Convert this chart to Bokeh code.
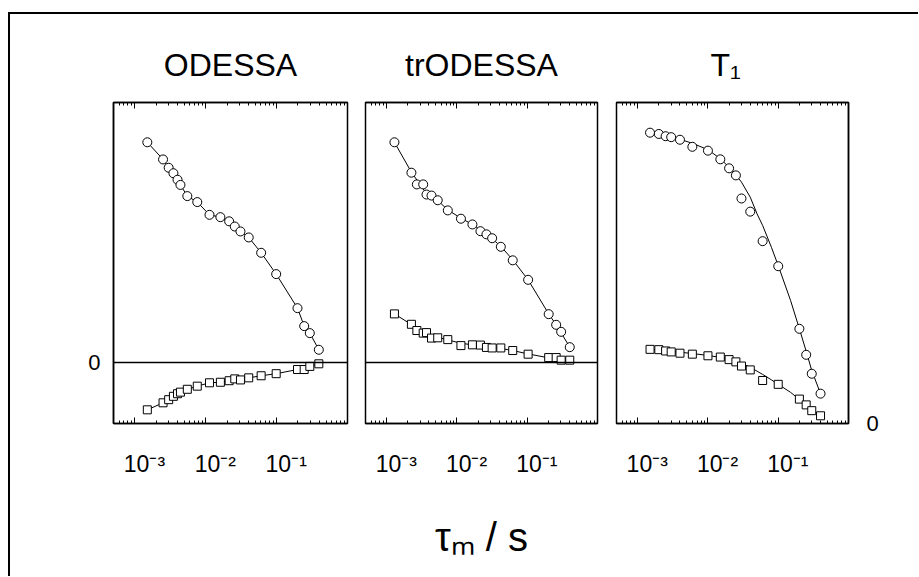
from bokeh.plotting import figure
from bokeh.models import (Range1d, FixedTicker, LogAxis, LinearAxis, Span, Title,
                          CustomJSTickFormatter)
from bokeh.layouts import row
from bokeh.embed import file_html
from bokeh.resources import INLINE

FONT = "Liberation Sans"

# ---------------- data ----------------
x_ticks = [1e-3, 1e-2, 1e-1]
x_tick_labels = ["10\u207b\u00b3", "10\u207b\u00b2", "10\u207b\u00b9"]
panel_titles = ["ODESSA", "trODESSA", "T\u2081"]
x_label = "\u03c4\u2098 / s"

odessa_tau = [1.5e-3, 2.5e-3, 3.0e-3, 3.5e-3, 4.0e-3, 4.4e-3, 5.5e-3, 7.6e-3, 0.0113, 0.0161,
              0.0214, 0.0257, 0.0309, 0.0404, 0.0605, 0.0986, 0.197, 0.245, 0.294, 0.394]
odessa_circ = [0.847, 0.781, 0.749, 0.728, 0.703, 0.683, 0.640, 0.617, 0.568, 0.559,
               0.543, 0.523, 0.504, 0.481, 0.422, 0.340, 0.209, 0.140, 0.113, 0.049]
odessa_sq = [-0.182, -0.155, -0.143, -0.130, -0.120, -0.114, -0.103, -0.091, -0.078, -0.076,
             -0.070, -0.063, -0.067, -0.059, -0.051, -0.043, -0.027, -0.027, -0.015, -0.005]

tr_tau = [1.29e-3, 2.25e-3, 2.69e-3, 3.31e-3, 3.69e-3, 4.35e-3, 5.33e-3, 7.41e-3, 0.0114, 0.0166,
          0.0216, 0.0263, 0.0317, 0.0421, 0.0622, 0.103, 0.202, 0.258, 0.304, 0.403]
tr_circ = [0.847, 0.730, 0.685, 0.685, 0.646, 0.642, 0.624, 0.585, 0.553, 0.531,
           0.505, 0.493, 0.478, 0.445, 0.393, 0.318, 0.186, 0.145, 0.118, 0.059]
tr_sq = [0.187, 0.147, 0.123, 0.113, 0.115, 0.094, 0.095, 0.088, 0.065, 0.068,
         0.067, 0.058, 0.056, 0.056, 0.046, 0.032, 0.019, 0.019, 0.009, 0.009]
tr_fit_tau = [1.29e-3, 2.25e-3, 3.69e-3, 5.33e-3, 7.41e-3, 0.0114, 0.0166, 0.0263, 0.0421,
              0.0622, 0.103, 0.202, 0.258, 0.304, 0.403]
tr_fit_circ = [0.847, 0.732, 0.649, 0.623, 0.587, 0.555, 0.531, 0.495, 0.447,
               0.395, 0.318, 0.187, 0.145, 0.114, 0.059]
tr_fit_sq = [0.187, 0.146, 0.110, 0.097, 0.087, 0.074, 0.068, 0.062, 0.054,
             0.046, 0.033, 0.018, 0.014, 0.010, 0.007]

t1_tau = [1.5e-3, 2e-3, 2.5e-3, 3e-3, 4e-3, 6e-3, 0.01, 0.015, 0.02, 0.025,
          0.03, 0.04, 0.06, 0.1, 0.2, 0.25, 0.3, 0.4]
t1_circ = [0.906, 0.902, 0.895, 0.892, 0.884, 0.862, 0.850, 0.823, 0.795, 0.773,
           0.701, 0.660, 0.568, 0.490, 0.295, 0.214, 0.155, 0.093]
t1_sq = [0.231, 0.230, 0.226, 0.223, 0.219, 0.216, 0.211, 0.207, 0.199, 0.192,
         0.179, 0.167, 0.134, 0.122, 0.076, 0.058, 0.040, 0.024]
t1_fit_tau = [1.5e-3, 3e-3, 6e-3, 0.01, 0.015, 0.02, 0.025, 0.03, 0.04, 0.05,
              0.06, 0.08, 0.1, 0.15, 0.2, 0.25, 0.3, 0.4]
t1_fit_circ = [0.906, 0.894, 0.873, 0.853, 0.825, 0.798, 0.774, 0.752, 0.705, 0.653,
               0.617, 0.549, 0.492, 0.383, 0.295, 0.225, 0.165, 0.093]
t1_fit_sq = [0.231, 0.225, 0.218, 0.212, 0.206, 0.200, 0.194, 0.188, 0.175, 0.163,
             0.153, 0.136, 0.122, 0.097, 0.075, 0.058, 0.043, 0.022]

X_MIN, X_MAX = 5e-4, 1.0
Y_MIN_A, Y_MAX_A = -0.2346, 1.0
Y_MIN_B, Y_MAX_B = 0.0, 1.0

# ---------------- layout constants ----------------
H = 562
TOP, BOTTOM = 88, 153

minor = []
for d in [-4, -3, -2, -1]:
    for k in range(2, 10):
        v = k * 10 ** d
        if X_MIN <= v <= X_MAX:
            minor.append(v)

NBSP = "\u00a0"
fmt_code = """
const e = Math.round(Math.log10(tick));
const m = {"-3": LABELS[0], "-2": LABELS[1], "-1": LABELS[2]};
const s = m[String(e)];
return s ? PAD + s : "";
"""


def style_x_axis(ax, labels=True):
    ax.ticker = FixedTicker(ticks=x_ticks, minor_ticks=minor)
    if labels:
        ax.formatter = CustomJSTickFormatter(args=dict(LABELS=x_tick_labels, PAD=NBSP * 3),
                                             code=fmt_code)
        ax.major_label_standoff = 27
        ax.major_label_text_font_size = "23px"
    else:
        ax.formatter = CustomJSTickFormatter(code="return '';")
        ax.major_label_standoff = 0
        ax.major_label_text_font_size = "2px"
    ax.axis_line_color = "black"
    ax.axis_line_width = 1.5
    ax.major_tick_in = 6
    ax.major_tick_out = 0
    ax.minor_tick_in = 3
    ax.minor_tick_out = 0
    ax.major_tick_line_color = "black"
    ax.minor_tick_line_color = "black"
    ax.major_label_text_font = FONT
    ax.major_label_text_color = "black"


def make_panel(width, left, right, y0, y1, title, align="center", title_offset=0):
    p = figure(width=width, height=H, x_axis_type="log",
               x_range=Range1d(X_MIN, X_MAX), y_range=Range1d(y0, y1),
               output_backend="svg", toolbar_location=None, title=None,
               min_border_left=left, min_border_right=right,
               min_border_top=TOP, min_border_bottom=BOTTOM,
               x_axis_location="below", y_axis_location=None)
    p.xgrid.visible = False
    p.ygrid.visible = False
    p.outline_line_color = "black"
    p.outline_line_width = 1.5
    p.background_fill_color = "white"
    p.border_fill_color = "white"
    bottom = p.below[0]
    style_x_axis(bottom, labels=True)
    top = LogAxis()
    style_x_axis(top, labels=False)
    p.add_layout(top, "above")
    p.add_layout(Title(text=title, align=align, offset=title_offset,
                       text_font=FONT, text_font_size="32px", text_font_style="normal",
                       text_color="black", standoff=40), "above")
    return p, bottom


def zero_axis(standoff):
    ax = LinearAxis(ticker=FixedTicker(ticks=[0.0]))
    ax.axis_line_color = "black"
    ax.axis_line_width = 1.5
    ax.major_tick_in = 0
    ax.major_tick_out = 0
    ax.minor_tick_in = 0
    ax.minor_tick_out = 0
    ax.major_label_standoff = standoff
    ax.major_label_text_font = FONT
    ax.major_label_text_font_size = "22px"
    ax.major_label_text_color = "black"
    return ax


W1, L1, R1 = 346, 103, 9
W2, L2, R2 = 250, 9, 9
W3, L3, R3 = 312, 10, 70

# panel 1: ODESSA
p1, ax1 = make_panel(W1, L1, R1, Y_MIN_A, Y_MAX_A, panel_titles[0])
p1.add_layout(zero_axis(13), "left")
p1.add_layout(Span(location=0, dimension="width", line_color="black", line_width=1.3))
p1.line(odessa_tau, odessa_circ, line_color="black", line_width=1)
p1.line(odessa_tau, odessa_sq, line_color="black", line_width=1)
p1.scatter(odessa_tau, odessa_circ, marker="circle", size=9, fill_color="white",
           line_color="black", line_width=1)
p1.scatter(odessa_tau, odessa_sq, marker="square", size=8, fill_color="white",
           line_color="black", line_width=1)

# panel 2: trODESSA
p2, ax2 = make_panel(W2, L2, R2, Y_MIN_A, Y_MAX_A, panel_titles[1])
p2.add_layout(Span(location=0, dimension="width", line_color="black", line_width=1.3))
p2.line(tr_fit_tau, tr_fit_circ, line_color="black", line_width=1)
p2.line(tr_fit_tau, tr_fit_sq, line_color="black", line_width=1)
p2.scatter(tr_tau, tr_circ, marker="circle", size=9, fill_color="white",
           line_color="black", line_width=1)
p2.scatter(tr_tau, tr_sq, marker="square", size=8, fill_color="white",
           line_color="black", line_width=1)
ax2.axis_label = x_label
ax2.axis_label_text_font = FONT
ax2.axis_label_text_font_size = "40px"
ax2.axis_label_text_font_style = "normal"
ax2.axis_label_text_color = "black"
ax2.axis_label_standoff = 35

# panel 3: T1
p3, ax3 = make_panel(W3, L3, R3, Y_MIN_B, Y_MAX_B, panel_titles[2], "left", 94)
p3.add_layout(zero_axis(18), "right")
p3.line(t1_fit_tau, t1_fit_circ, line_color="black", line_width=1)
p3.line(t1_fit_tau, t1_fit_sq, line_color="black", line_width=1)
p3.scatter(t1_tau, t1_circ, marker="circle", size=9, fill_color="white",
           line_color="black", line_width=1)
p3.scatter(t1_tau, t1_sq, marker="square", size=8, fill_color="white",
           line_color="black", line_width=1)

layout = row(p1, p2, p3, spacing=0,
             styles={"border-left": "2px solid black", "border-top": "2px solid black",
                     "margin-top": "12px", "margin-left": "8px"})

open("out.html", "w").write(file_html(layout, INLINE))
